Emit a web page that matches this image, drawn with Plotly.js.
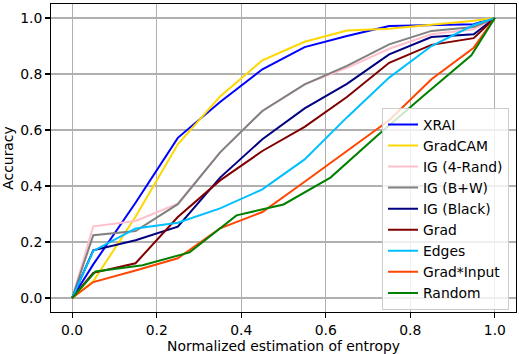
<!DOCTYPE html>
<html>
<head>
<meta charset="utf-8">
<script src="https://cdn.plot.ly/plotly-3.0.1.min.js"></script>
<style>html,body{margin:0;padding:0;background:#fff;}#chart{width:519px;height:354px;}</style>
</head>
<body>
<div id="chart"></div>
<script>
// x positions shared by most methods
var xCommon = [0, 0.05, 0.15, 0.25, 0.35, 0.45, 0.55, 0.65, 0.75, 0.85, 0.95, 1.0];
// x positions for the Random baseline
var xRandom = [0, 0.0556, 0.1667, 0.2778, 0.3889, 0.5, 0.6111, 0.7222, 0.8333, 0.9444, 1.0];

var names = ["XRAI", "GradCAM", "IG (4-Rand)", "IG (B+W)", "IG (Black)", "Grad", "Edges", "Grad*Input", "Random"];
var colors = ["#0000ff", "#ffd700", "#ffc0cb", "#808080", "#000080", "#800000", "#00bfff", "#ff4500", "#008000"];

var xrai      = [0, 0.12, 0.34, 0.572, 0.70, 0.817, 0.896, 0.936, 0.971, 0.975, 0.978, 1.0];
var gradcam   = [0, 0.06, 0.29, 0.549, 0.72, 0.849, 0.915, 0.955, 0.962, 0.975, 0.99, 1.0];
var ig4rand   = [0, 0.256, 0.275, 0.337, 0.52, 0.668, 0.763, 0.822, 0.89, 0.942, 0.96, 1.0];
var igbw      = [0, 0.224, 0.239, 0.335, 0.52, 0.668, 0.763, 0.829, 0.906, 0.954, 0.968, 1.0];
var igblack   = [0, 0.17, 0.206, 0.255, 0.43, 0.567, 0.677, 0.765, 0.87, 0.932, 0.942, 1.0];
var grad      = [0, 0.09, 0.124, 0.289, 0.42, 0.525, 0.611, 0.718, 0.84, 0.904, 0.928, 1.0];
var edges     = [0, 0.168, 0.248, 0.269, 0.32, 0.388, 0.495, 0.645, 0.787, 0.9, 0.975, 1.0];
var gradinput = [0, 0.057, 0.098, 0.142, 0.249, 0.307, 0.415, 0.525, 0.635, 0.781, 0.894, 1.0];
var random    = [0, 0.095, 0.117, 0.163, 0.295, 0.334, 0.43, 0.58, 0.725, 0.867, 1.0];

var series = [xrai, gradcam, ig4rand, igbw, igblack, grad, edges, gradinput, random];
var xs = [xCommon, xCommon, xCommon, xCommon, xCommon, xCommon, xCommon, xCommon, xRandom];

var xTicks = [0, 0.2, 0.4, 0.6, 0.8, 1.0];
var xTickText = ["0.0", "0.2", "0.4", "0.6", "0.8", "1.0"];
var yTicks = [0, 0.2, 0.4, 0.6, 0.8, 1.0];
var yTickText = ["0.0", "0.2", "0.4", "0.6", "0.8", "1.0"];

var traces = series.map(function (s, i) {
  return {
    x: xs[i], y: s, name: names[i], type: "scatter", mode: "lines",
    line: {color: colors[i], width: 2}
  };
});

var font = {family: "DejaVu Sans", size: 13.9, color: "#000"};
var axisCommon = {
  showline: true, mirror: true, linecolor: "#000", linewidth: 1.1,
  showgrid: true, gridcolor: "#b0b0b0", gridwidth: 1.1,
  zeroline: false, ticks: "outside", ticklen: 4.9, tickwidth: 1.1, tickcolor: "#000",
  tickfont: font, tickmode: "array"
};

var layout = {
  width: 519, height: 354,
  margin: {l: 51, r: 3, t: 4, b: 42},
  paper_bgcolor: "#fff", plot_bgcolor: "#fff",
  font: font,
  showlegend: true,
  xaxis: Object.assign({}, axisCommon, {
    range: [-0.05, 1.05], tickvals: xTicks, ticktext: xTickText,
    title: {text: "Normalized estimation of entropy", font: font, standoff: 4}
  }),
  yaxis: Object.assign({}, axisCommon, {
    range: [-0.05, 1.05], tickvals: yTicks, ticktext: yTickText,
    title: {text: "Accuracy", font: font, standoff: 6}
  }),
  legend: {
    x: 0.985, y: 0.007, xanchor: "right", yanchor: "bottom",
    bgcolor: "rgba(255,255,255,0.8)", bordercolor: "#cccccc", borderwidth: 1,
    font: font, tracegroupgap: 0
  }
};

Plotly.newPlot("chart", traces, layout, {staticPlot: true, displayModeBar: false});
</script>
</body>
</html>
